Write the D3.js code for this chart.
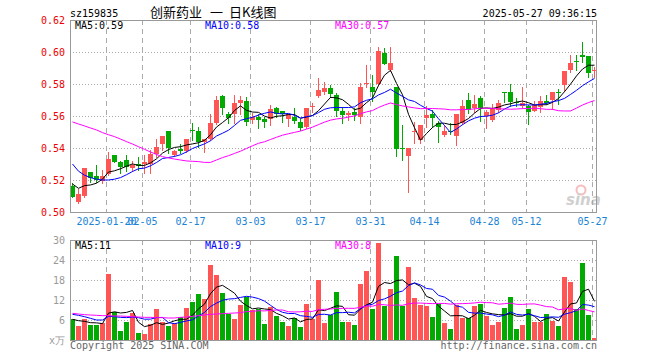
<!DOCTYPE html>
<html>
<head>
<meta charset="utf-8">
<script src="https://cdn.jsdelivr.net/npm/d3@7"></script>
<style>
  html, body { margin: 0; padding: 0; background: #fff; }
  svg { display: block; }
  text { font-family: "DejaVu Sans Mono", monospace; font-size: 10px; }
</style>
</head>
<body>
<div id="chart"></div>
<script>
// trading days shown on the chart
const dates = [
  "2025-01-10","2025-01-13","2025-01-14","2025-01-15","2025-01-16","2025-01-17","2025-01-20","2025-01-21","2025-01-22","2025-01-23",
  "2025-01-24","2025-01-27","2025-02-05","2025-02-06","2025-02-07","2025-02-10","2025-02-11","2025-02-12","2025-02-13","2025-02-14",
  "2025-02-17","2025-02-18","2025-02-19","2025-02-20","2025-02-21","2025-02-24","2025-02-25","2025-02-26","2025-02-27","2025-02-28",
  "2025-03-03","2025-03-04","2025-03-05","2025-03-06","2025-03-07","2025-03-10","2025-03-11","2025-03-12","2025-03-13","2025-03-14",
  "2025-03-17","2025-03-18","2025-03-19","2025-03-20","2025-03-21","2025-03-24","2025-03-25","2025-03-26","2025-03-27","2025-03-28",
  "2025-03-31","2025-04-01","2025-04-02","2025-04-03","2025-04-07","2025-04-08","2025-04-09","2025-04-10","2025-04-11","2025-04-14",
  "2025-04-15","2025-04-16","2025-04-17","2025-04-18","2025-04-21","2025-04-22","2025-04-23","2025-04-24","2025-04-25","2025-04-28",
  "2025-04-29","2025-04-30","2025-05-06","2025-05-07","2025-05-08","2025-05-09","2025-05-12","2025-05-13","2025-05-14","2025-05-15",
  "2025-05-16","2025-05-19","2025-05-20","2025-05-21","2025-05-22","2025-05-23","2025-05-26","2025-05-27"
];

const open = [
  0.5165,0.5065,0.5102,0.5250,0.5225,0.5196,0.5242,0.5356,0.5313,0.5325,
  0.5277,0.5300,0.5300,0.5300,0.5360,0.5425,0.5506,0.5354,0.5396,0.5383,
  0.5513,0.5506,0.5435,0.5456,0.5556,0.5725,0.5613,0.5613,0.5679,0.5694,
  0.5579,0.5592,0.5581,0.5581,0.5648,0.5631,0.5581,0.5592,0.5565,0.5527,
  0.5654,0.5725,0.5748,0.5773,0.5731,0.5633,0.5606,0.5627,0.5596,0.5796,
  0.5783,0.5804,0.5996,0.5892,0.5783,0.5398,0.5346,0.5504,0.5450,0.5585,
  0.5613,0.5558,0.5481,0.5504,0.5475,0.5554,0.5700,0.5648,0.5710,0.5600,
  0.5575,0.5638,0.5748,0.5748,0.5685,0.5658,0.5663,0.5631,0.5654,0.5694,
  0.5700,0.5752,0.5794,0.5883,0.5944,0.5981,0.5975,0.5881
];
const high = [
  0.5183,0.5142,0.5275,0.5250,0.5294,0.5263,0.5375,0.5358,0.5319,0.5356,
  0.5321,0.5346,0.5356,0.5388,0.5456,0.5475,0.5506,0.5388,0.5425,0.5458,
  0.5554,0.5531,0.5456,0.5613,0.5725,0.5731,0.5627,0.5731,0.5725,0.5721,
  0.5617,0.5613,0.5596,0.5669,0.5658,0.5631,0.5613,0.5648,0.5581,0.5648,
  0.5683,0.5835,0.5810,0.5794,0.5742,0.5658,0.5633,0.5648,0.5804,0.5919,
  0.5856,0.6033,0.6023,0.6029,0.5783,0.5544,0.5398,0.5565,0.5544,0.5663,
  0.5638,0.5570,0.5544,0.5558,0.5613,0.5700,0.5746,0.5731,0.5725,0.5638,
  0.5675,0.5700,0.5748,0.5800,0.5710,0.5779,0.5669,0.5696,0.5725,0.5729,
  0.5752,0.5767,0.5883,0.5981,0.5981,0.6060,0.5975,0.5908
];
const low = [
  0.5092,0.5056,0.5096,0.5190,0.5190,0.5183,0.5233,0.5313,0.5242,0.5258,
  0.5258,0.5263,0.5246,0.5246,0.5346,0.5388,0.5367,0.5350,0.5367,0.5375,
  0.5450,0.5408,0.5375,0.5450,0.5550,0.5613,0.5554,0.5554,0.5613,0.5542,
  0.5558,0.5523,0.5529,0.5544,0.5596,0.5565,0.5540,0.5554,0.5513,0.5523,
  0.5627,0.5721,0.5738,0.5721,0.5600,0.5554,0.5575,0.5575,0.5554,0.5783,
  0.5694,0.5794,0.5925,0.5883,0.5350,0.5325,0.5127,0.5429,0.5429,0.5529,
  0.5529,0.5440,0.5475,0.5488,0.5419,0.5550,0.5617,0.5627,0.5571,0.5523,
  0.5571,0.5627,0.5690,0.5663,0.5663,0.5648,0.5550,0.5629,0.5627,0.5675,
  0.5642,0.5675,0.5758,0.5877,0.5888,0.5940,0.5846,0.5846
];
const close = [
  0.5096,0.5113,0.5275,0.5215,0.5200,0.5225,0.5333,0.5315,0.5279,0.5279,
  0.5296,0.5288,0.5313,0.5360,0.5404,0.5475,0.5398,0.5381,0.5383,0.5458,
  0.5508,0.5435,0.5456,0.5556,0.5700,0.5648,0.5585,0.5683,0.5700,0.5560,
  0.5596,0.5575,0.5565,0.5642,0.5613,0.5613,0.5613,0.5565,0.5527,0.5648,
  0.5663,0.5763,0.5773,0.5735,0.5633,0.5606,0.5617,0.5606,0.5783,0.5804,
  0.5752,0.6008,0.5929,0.5933,0.5398,0.5396,0.5398,0.5508,0.5544,0.5606,
  0.5585,0.5533,0.5506,0.5500,0.5613,0.5663,0.5638,0.5675,0.5648,0.5627,
  0.5648,0.5679,0.5744,0.5683,0.5683,0.5679,0.5627,0.5669,0.5694,0.5683,
  0.5752,0.5748,0.5883,0.5929,0.5940,0.5967,0.5867,0.5885
];
// volume, in 万
const volume = [
  6.2,4.2,6.3,4.5,4.5,5.1,19.9,8.3,2.7,5.4,
  8.0,2.2,1.8,4.7,9.3,5.4,4.2,5.2,6.8,9.6,
  11.4,13.7,12.3,22.5,19.5,14.0,7.9,6.3,10.5,13.0,
  9.0,9.2,4.8,9.8,7.2,5.4,4.2,6.5,3.9,10.8,
  6.2,18.0,5.2,7.4,14.5,5.4,5.4,4.5,16.8,20.7,
  9.3,29.2,10.2,15.3,25.2,10.2,21.9,12.6,10.5,10.2,
  6.9,10.8,5.1,3.3,10.5,6.6,6.5,10.2,10.8,7.2,
  4.5,5.4,9.6,12.9,3.3,4.5,9.3,5.4,5.4,7.8,
  5.7,4.2,18.9,17.5,9.2,23.1,7.5,0.7
];

// moving-average values for the first days,
// where the averaging window reaches back before the first candle
const ma5Head  = [0.5175,0.5148,0.5165,0.5169];
const ma10Head = [0.5300,0.5255,0.5230,0.5215,0.5205,0.5200,0.5200,0.5205,0.5215];
const ma30Head = [0.5563,0.5550,0.5538,0.5525,0.5513,0.5496,0.5483,0.5471,0.5456,0.5440,
                  0.5425,0.5408,0.5392,0.5375,0.5360,0.5346,0.5338,0.5331,0.5325,0.5319,
                  0.5317,0.5315,0.5310,0.5310,0.5325,0.5340,0.5352,0.5366,0.5380];
const vma5Head  = [6.2,5.8,5.6,5.2];
const vma10Head = [7.7,7.4,7.0,6.5,6.0,6.0,7.1,7.0,6.8];
const vma30Head = [8.0,7.8,7.6,7.5,7.4,7.3,7.3,7.2,7.2,7.1,7.0,6.9,6.8,6.8,6.7,6.7,6.6,6.6,6.8,6.9,
                   7.1,7.3,7.5,7.7,7.8,7.9,8.0,8.1,8.2];

const tickDates = ["2025-01-20","2025-02-05","2025-02-17","2025-03-03","2025-03-17",
                   "2025-03-31","2025-04-14","2025-04-28","2025-05-12","2025-05-27"];
const priceTicks = [0.50, 0.52, 0.54, 0.56, 0.58, 0.60, 0.62];
const volTicks = [0, 6, 12, 18, 24, 30];

const titleParts = ["创新药业", "一", "日K线图"];
const priceLegend = ["MA5:0.59", "MA10:0.58", "MA30:0.57"];
const volLegend = ["MA5:11", "MA10:9", "MA30:8"];
const maColors = ["#000000", "#0000ff", "#ff00ff"];

const RED = "#ff5555", GREEN = "#00aa00", GRID = "#aaaaaa", FRAME = "#999999";

function movingAvg(values, n, head) {
  return values.map((v, i) => i < n - 1 ? head[i] : d3.mean(values.slice(i - n + 1, i + 1)));
}

const priceMA = [movingAvg(close, 5, ma5Head), movingAvg(close, 10, ma10Head), movingAvg(close, 30, ma30Head)];
const volMA = [movingAvg(volume, 5, vma5Head), movingAvg(volume, 10, vma10Head), movingAvg(volume, 30, vma30Head)];

const width = 660, height = 360;
const svg = d3.select("#chart").append("svg")
    .attr("width", width)
    .attr("height", height);

const x = d3.scaleLinear().domain([0, dates.length]).range([70, 598]);
const yP = d3.scaleLinear().domain([0.50, 0.62]).range([212, 20]);
const yV = d3.scaleLinear().domain([0, 30]).range([340, 240]);
const cx = i => x(i) + 2.5;
const tickIdx = tickDates.map(d => dates.indexOf(d));
const up = i => close[i] >= open[i];

// header
svg.append("text").attr("x", 70).attr("y", 17).text("sz159835");
const titleX = [150, 210, 229];
titleParts.forEach((t, k) => svg.append("text").attr("x", titleX[k]).attr("y", 17)
    .style("font-family", "'Noto Sans CJK SC', sans-serif").style("font-size", "13px")
    .text(t));
svg.append("text").attr("x", 597).attr("y", 17).attr("text-anchor", "end").text("2025-05-27 09:36:15");

// grid for one panel
function grid(yScale, ticks, top, bottom) {
  const g = svg.append("g");
  g.selectAll(".h").data(ticks.slice(1, -1)).join("line")
      .attr("x1", 70).attr("x2", 597)
      .attr("y1", d => Math.round(yScale(d)) + 0.5).attr("y2", d => Math.round(yScale(d)) + 0.5)
      .attr("stroke", GRID).attr("stroke-dasharray", "1,2");
  g.selectAll(".v").data(tickIdx).join("line")
      .attr("x1", d => x(d) + 0.5).attr("x2", d => x(d) + 0.5)
      .attr("y1", top).attr("y2", bottom)
      .attr("stroke", GRID).attr("stroke-dasharray", "5,4");
}
grid(yP, priceTicks, 20, 212);
grid(yV, volTicks, 240, 340);

// sina watermark
const wm = svg.append("g").attr("opacity", 0.55);
wm.append("circle").attr("cx", 581).attr("cy", 190).attr("r", 4.5)
    .attr("fill", "none").attr("stroke", "#e88").attr("stroke-width", 2);
wm.append("text").attr("x", 566).attr("y", 205)
    .style("font-family", "'DejaVu Sans', sans-serif").style("font-size", "15px")
    .style("font-weight", "bold").style("font-style", "italic")
    .attr("fill", "#aaa").text("sina");

// candles
const candles = svg.append("g").selectAll("g").data(dates).join("g");
candles.append("line")
    .attr("x1", (d, i) => cx(i)).attr("x2", (d, i) => cx(i))
    .attr("y1", (d, i) => Math.round(yP(high[i]))).attr("y2", (d, i) => Math.round(yP(low[i])) + 1)
    .attr("stroke", (d, i) => up(i) ? RED : GREEN);
candles.append("rect")
    .attr("x", (d, i) => x(i))
    .attr("y", (d, i) => Math.round(yP(Math.max(open[i], close[i]))))
    .attr("width", 5)
    .attr("height", (d, i) => Math.max(1, Math.round(Math.abs(yP(open[i]) - yP(close[i])))))
    .attr("fill", (d, i) => up(i) ? RED : GREEN);

// volume bars
svg.append("g").selectAll("rect").data(volume).join("rect")
    .attr("x", (d, i) => x(i))
    .attr("y", d => Math.round(yV(d)))
    .attr("width", 5)
    .attr("height", d => 340 - Math.round(yV(d)))
    .attr("fill", (d, i) => up(i) ? RED : GREEN);

// moving-average lines
priceMA.forEach((s, k) => {
  svg.append("path").datum(s)
      .attr("fill", "none").attr("stroke", maColors[k]).attr("stroke-width", 1)
      .attr("d", d3.line().x((d, i) => cx(i)).y(d => yP(d)));
});
volMA.forEach((s, k) => {
  svg.append("path").datum(s)
      .attr("fill", "none").attr("stroke", maColors[k]).attr("stroke-width", 1)
      .attr("d", d3.line().x((d, i) => cx(i)).y(d => yV(d)));
});

// frames
svg.append("rect").attr("x", 70.5).attr("y", 20.5).attr("width", 526).attr("height", 192)
    .attr("fill", "none").attr("stroke", FRAME);
svg.append("rect").attr("x", 70.5).attr("y", 240.5).attr("width", 526).attr("height", 100)
    .attr("fill", "none").attr("stroke", FRAME);

// axes
const priceAxis = svg.append("g").attr("transform", "translate(70,0)")
    .call(d3.axisLeft(yP).tickValues(priceTicks).tickSize(0).tickPadding(5).tickFormat(d3.format(".2f")));
priceAxis.select(".domain").remove();
priceAxis.selectAll("text").attr("fill", "#ee0000").style("font-size", "10px").style("font-family", "'DejaVu Sans Mono', monospace");

const volAxis = svg.append("g").attr("transform", "translate(70,0)")
    .call(d3.axisLeft(yV).tickValues(volTicks).tickSize(0).tickPadding(5).tickFormat(d => d === 0 ? "x万" : d));
volAxis.select(".domain").remove();
volAxis.selectAll("text").attr("fill", "#999").style("font-size", "10px").style("font-family", "'DejaVu Sans Mono', monospace");

const dateAxis = svg.append("g").attr("transform", "translate(0,212)")
    .call(d3.axisBottom(x).tickValues(tickIdx).tickSize(0).tickPadding(6)
      .tickFormat((d, k) => k === 0 ? dates[d] : dates[d].slice(5)));
dateAxis.select(".domain").remove();
dateAxis.selectAll("text").attr("fill", "#1a84d6").style("font-size", "10px").style("font-family", "'DejaVu Sans Mono', monospace");

// legends
const legendX = [75, 205, 335];
priceLegend.forEach((t, k) => svg.append("text").attr("x", legendX[k]).attr("y", 29).attr("fill", maColors[k]).text(t));
volLegend.forEach((t, k) => svg.append("text").attr("x", legendX[k]).attr("y", 249).attr("fill", maColors[k]).text(t));

// footer
svg.append("text").attr("x", 70).attr("y", 349).attr("fill", "#666").text("Copyright 2025 SINA.COM");
svg.append("text").attr("x", 597).attr("y", 349).attr("text-anchor", "end").attr("fill", "#666").text("http://finance.sina.com.cn");
</script>
</body>
</html>
